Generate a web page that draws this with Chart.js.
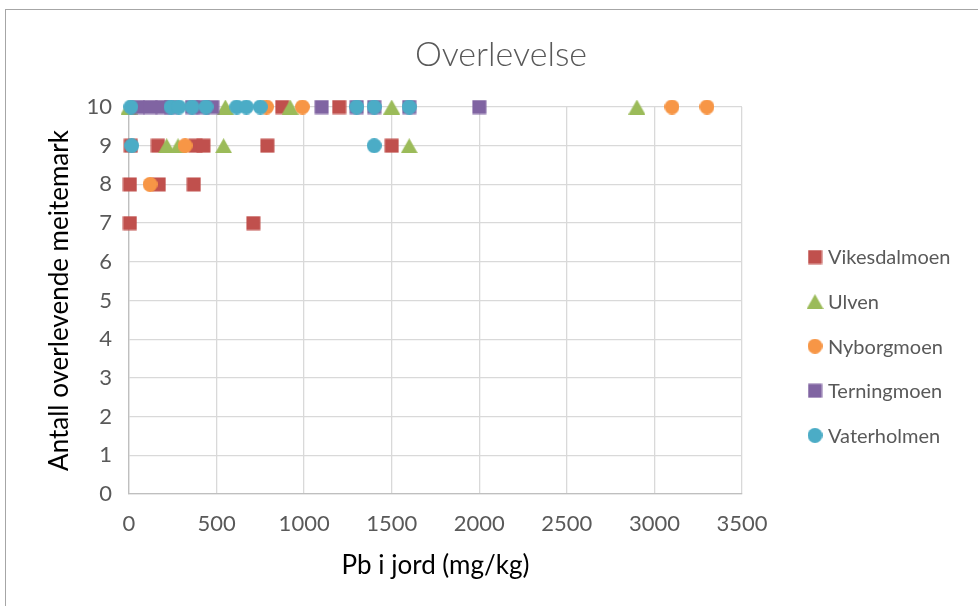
<!DOCTYPE html>
<html>
<head>
<meta charset="utf-8">
<title>Overlevelse</title>
<script src="https://cdn.jsdelivr.net/npm/chart.js@4.4.0/dist/chart.umd.min.js"></script>
<style>
    html, body { margin: 0; padding: 0; background: #fff; overflow: hidden; }
    #ramme { position: absolute; left: 5px; top: 9px; width: 1000px; height: 700px; border: 1px solid #a6a6a6; box-sizing: border-box; }
    #wrap { position: absolute; left: 0; top: 0; width: 978px; height: 606px; }
</style>
</head>
<body>
<div id="ramme"></div>
<div id="wrap"><canvas id="grafico"></canvas></div>
<script>
// Data lest av figuren: Pb i jord (mg/kg) og antall overlevende meitemark
const steder = ['Vikesdalmoen', 'Ulven', 'Nyborgmoen', 'Terningmoen', 'Vaterholmen'];

const vikesdalmoenPb = [5, 5, 10, 165, 170, 370, 380, 425, 710, 790, 875, 1200, 1500];
const vikesdalmoenAntall = [7, 8, 9, 9, 8, 8, 9, 9, 7, 9, 10, 10, 9];

const ulvenPb = [0, 550, 920, 1500, 2900, 215, 280, 540, 1600];
const ulvenAntall = [10, 10, 10, 10, 10, 9, 9, 9, 9];

const nyborgmoenPb = [785, 990, 3100, 3300, 320, 120];
const nyborgmoenAntall = [10, 10, 10, 10, 9, 8];

const terningmoenPb = [50, 120, 190, 240, 360, 420, 475, 1100, 1300, 1400, 1600, 2000];
const terningmoenAntall = [10, 10, 10, 10, 10, 10, 10, 10, 10, 10, 10, 10];

const vaterholmenPb = [10, 240, 285, 360, 440, 615, 670, 750, 1300, 1400, 1600, 15, 1400];
const vaterholmenAntall = [10, 10, 10, 10, 10, 10, 10, 10, 10, 10, 10, 9, 9];

const farger = ['#C0504D', '#9BBB59', '#F79646', '#8064A2', '#4BACC6'];
const former = ['kvadrat', 'trekant', 'sirkel', 'kvadrat', 'sirkel'];

// Lager en liten canvas med markøren, sentrert slik Excel gjør det
function lagMarkor(form, farge) {
    const c = document.createElement('canvas');
    const w = form === 'trekant' ? 17 : 15;
    const h = 15;
    c.width = w;
    c.height = h;
    const g = c.getContext('2d');
    g.fillStyle = farge;
    g.beginPath();
    if (form === 'kvadrat') {
        g.rect(0.5, 0.5, w - 1, h - 1);
    } else if (form === 'sirkel') {
        g.arc(w / 2, h / 2, 7.5, 0, Math.PI * 2);
    } else {
        g.moveTo(w / 2, 0);
        g.lineTo(w, h);
        g.lineTo(0, h);
        g.closePath();
    }
    g.fill();
    return c;
}

function punkter(xs, ys) {
    return xs.map((x, i) => ({ x: x, y: ys[i] }));
}

const serier = [
    punkter(vikesdalmoenPb, vikesdalmoenAntall),
    punkter(ulvenPb, ulvenAntall),
    punkter(nyborgmoenPb, nyborgmoenAntall),
    punkter(terningmoenPb, terningmoenAntall),
    punkter(vaterholmenPb, vaterholmenAntall)
];

const markorer = farger.map((f, i) => lagMarkor(former[i], f));

const datasets = steder.map((navn, i) => ({
    label: navn,
    data: serier[i],
    pointStyle: markorer[i],
    backgroundColor: farger[i],
    borderColor: farger[i],
    borderWidth: 0,
    clip: false,
    order: steder.length - i
}));

// Forklaring til høyre
const forklaring = {
    id: 'forklaring',
    afterDraw(chart) {
        const ctx = chart.ctx;
        ctx.save();
        ctx.font = '20px Lato';
        ctx.fillStyle = '#595959';
        ctx.textBaseline = 'middle';
        ctx.textAlign = 'left';
        steder.forEach((navn, i) => {
            const y = 257 + i * 44.6;
            const m = markorer[i];
            ctx.drawImage(m, 815 - m.width / 2, y - m.height / 2);
            ctx.fillText(navn, 828, y + 1);
        });
        ctx.restore();
    }
};

const tickFont = { family: 'Lato', size: 22 };

new Chart(document.getElementById('grafico'), {
    type: 'scatter',
    data: { datasets: datasets },
    options: {
        responsive: true,
        maintainAspectRatio: false,
        animation: false,
        events: [],
        layout: { padding: { left: 24, right: 0, top: 0, bottom: 0 } },
        plugins: {
            legend: { display: false },
            tooltip: { enabled: false },
            title: {
                display: true,
                text: 'Overlevelse',
                color: '#595959',
                font: { family: 'Lato', size: 34, weight: '300' },
                padding: { top: 34.6, bottom: 31.6 }
            }
        },
        scales: {
            x: {
                type: 'linear',
                min: 0,
                max: 3500,
                ticks: {
                    stepSize: 500, color: '#595959', font: tickFont, padding: 17,
                    callback: (v) => String(v)
                },
                grid: { color: '#d9d9d9', lineWidth: 1.3, drawTicks: false },
                border: { color: '#bfbfbf', width: 1.3 },
                title: {
                    display: true,
                    text: 'Pb i jord (mg/kg)',
                    color: '#000',
                    font: { family: 'Lato', size: 26 },
                    padding: { top: 0, bottom: 24.4 }
                },
                afterFit(scale) { scale.height = 112; }
            },
            y: {
                min: 0,
                max: 10,
                ticks: { stepSize: 1, color: '#595959', font: tickFont, padding: 17 },
                grid: { color: '#d9d9d9', lineWidth: 1.3, drawTicks: false },
                border: { color: '#bfbfbf', width: 1.3 },
                title: {
                    display: true,
                    text: 'Antall overlevende meitemark',
                    color: '#000',
                    font: { family: 'Lato', size: 26 },
                    padding: { top: 20.4, bottom: 0 }
                },
                afterFit(scale) { scale.width = 105; }
            },
            // tom akse til høyre som gir plass til forklaringen
            plass: {
                type: 'linear',
                position: 'right',
                display: true,
                ticks: { display: false },
                grid: { display: false },
                border: { display: false },
                afterFit(scale) { scale.width = 236; }
            }
        }
    },
    plugins: [forklaring]
});
</script>
</body>
</html>
